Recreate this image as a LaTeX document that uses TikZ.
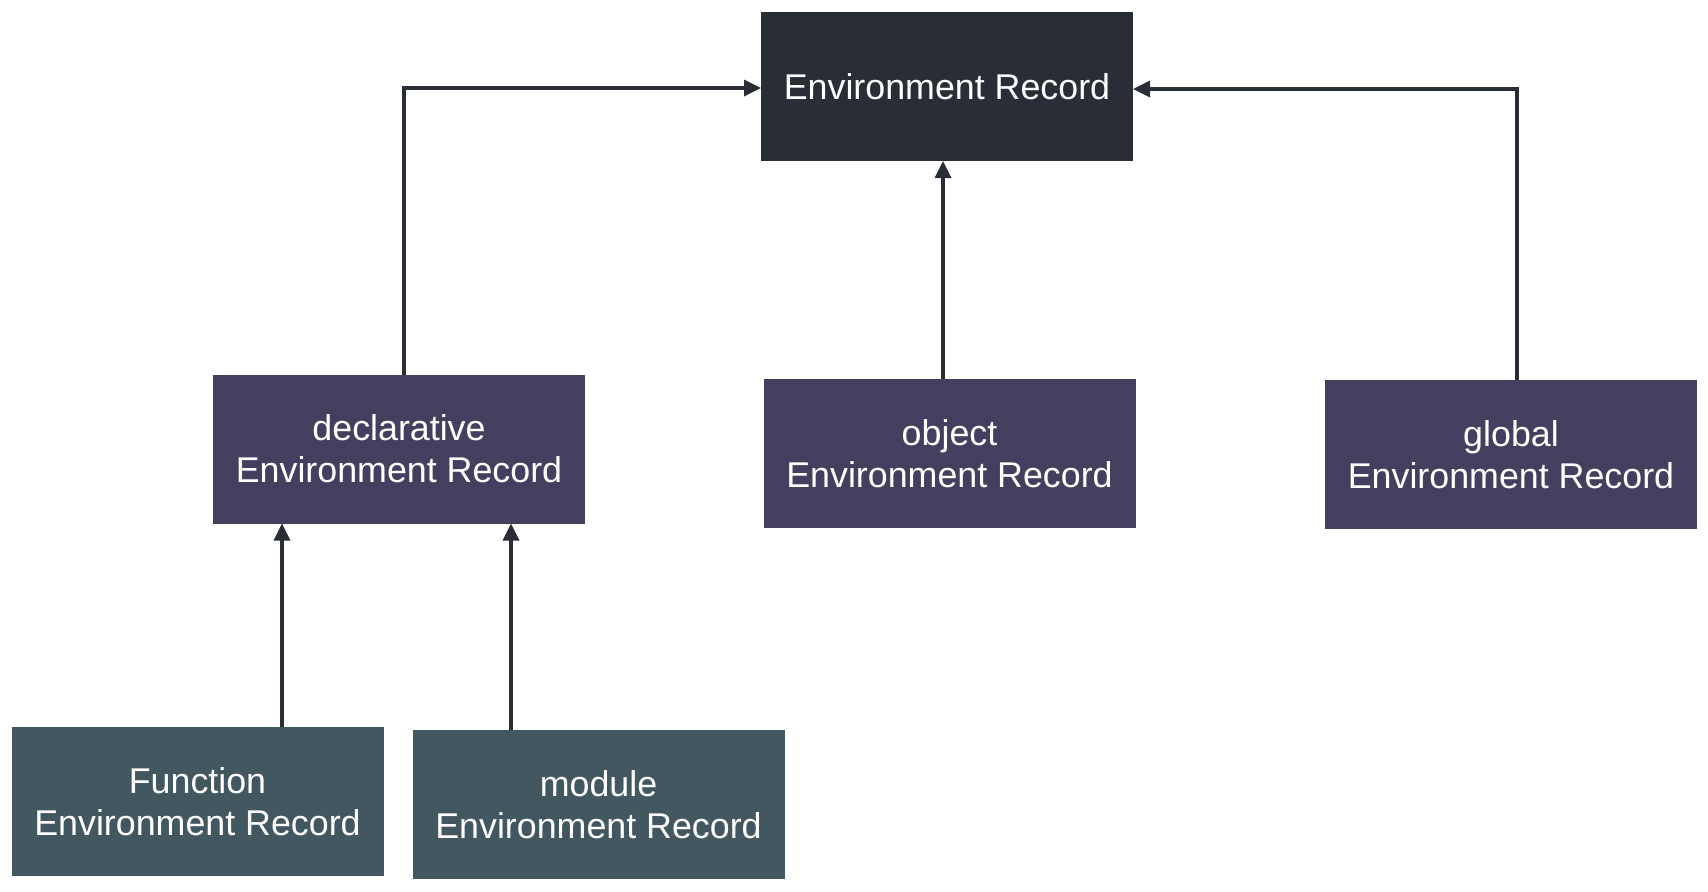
\documentclass[tikz,border=0pt]{standalone}
\usepackage{fontspec}
\setmainfont{Liberation Sans}
\usetikzlibrary{arrows.meta,positioning}
\definecolor{rootfill}{HTML}{292D36}
\definecolor{kindfill}{HTML}{43405F}
\definecolor{leaffill}{HTML}{42575F}
\definecolor{wire}{HTML}{292D36}

\begin{document}
\begin{tikzpicture}[->,>={Triangle[length=8.5pt,width=8pt]},line width=1.7pt,draw=wire,
        x=0.5pt,y=-0.5pt,
        record/.style={rectangle,minimum width=186pt,minimum height=74.5pt,
            inner sep=0pt,outer sep=0pt,align=center,text=white,
            font=\fontsize{17.9}{21}\selectfont}]

    \useasboundingbox (0,0) rectangle (1708,891);

    \node[record,fill=rootfill] (env)  at (947,86.5)   {Environment Record};
    \node[record,fill=kindfill] (decl) at (399,449)    {declarative\\Environment Record};
    \node[record,fill=kindfill] (obj)  at (949.5,453.5) {object\\Environment Record};
    \node[record,fill=kindfill] (glob) at (1511,454.5) {global\\Environment Record};
    \node[record,fill=leaffill] (func) at (197.5,801.5) {Function\\Environment Record};
    \node[record,fill=leaffill] (mod)  at (598.5,804.5) {module\\Environment Record};

    \coordinate (fa) at ([xshift=34.5pt]decl.south west);
    \coordinate (ma) at ([xshift=-37pt]decl.south east);
    \coordinate (oa) at ([xshift=-2pt]env.south);

    \draw ([xshift=2.5pt]decl.north) |- ([yshift=-0.75pt]env.west);
    \draw (oa |- obj.north) -- (oa);
    \draw ([xshift=3pt]glob.north) |- ([yshift=-1.25pt]env.east);
    \draw (fa |- func.north) -- (fa);
    \draw (ma |- mod.north) -- (ma);

    \end{tikzpicture}
\end{document}
